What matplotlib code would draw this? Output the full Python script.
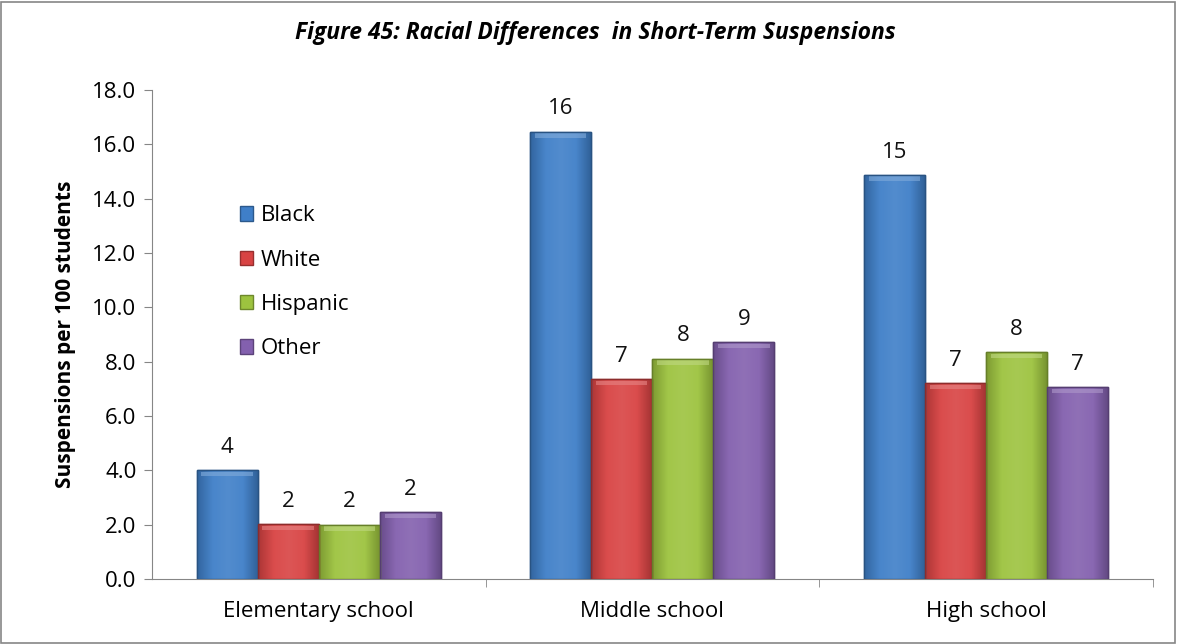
import numpy as np
import matplotlib
matplotlib.use("Agg")
import matplotlib.pyplot as plt
from matplotlib.colors import LinearSegmentedColormap, to_rgb
from matplotlib.patches import Rectangle

categories = ["Elementary school", "Middle school", "High school"]
groups = ["Black", "White", "Hispanic", "Other"]
black = [4.01, 16.47, 14.88]
white = [2.02, 7.36, 7.21]
hispanic = [2.00, 8.11, 8.36]
other = [2.45, 8.72, 7.05]
series = [black, white, hispanic, other]
colors = ["#3F7FC8", "#D84343", "#9DC33F", "#8360AE"]
yticks = np.arange(0, 18.1, 2)

plt.rcParams["font.family"] = ["Open Sans", "DejaVu Sans"]

fig = plt.figure(figsize=(11.77, 6.44), dpi=100)
ax = fig.add_axes([0.129, 0.1009, 0.8505, 0.7593])

x = np.arange(len(categories))
w = 0.183
offsets = (np.arange(len(groups)) - 1.5) * w


def shade(c, f):
    r = np.array(to_rgb(c))
    if f >= 0:
        return tuple(r + (1 - r) * f)
    return tuple(r * (1 + f))


for gi, (name, vals, col) in enumerate(zip(groups, series, colors)):
    bars = ax.bar(x + offsets[gi], vals, width=w, color=col,
                  edgecolor=shade(col, -0.3), linewidth=1.0, label=name, zorder=3)
    cmap = LinearSegmentedColormap.from_list(
        name, [shade(col, -0.2), shade(col, 0.05), shade(col, 0.1),
               shade(col, 0.05), shade(col, -0.25)])
    grad = np.linspace(0, 1, 64).reshape(1, -1)
    for b, v in zip(bars, vals):
        bx, bw = b.get_x(), b.get_width()
        im = ax.imshow(grad, cmap=cmap, extent=(bx, bx + bw, 0, v),
                       aspect="auto", zorder=3.5, interpolation="bicubic")
        im.set_clip_path(b)
        # top bevel highlight
        ax.add_patch(Rectangle((bx + bw * 0.08, v - 0.22), bw * 0.84, 0.16,
                               color=shade(col, 0.35), alpha=0.6, zorder=3.6,
                               linewidth=0))
        ax.add_patch(Rectangle((bx, 0), bw, v, fill=False,
                               edgecolor=shade(col, -0.35), linewidth=1.0, zorder=3.7))
        ax.text(bx + bw / 2, v + 0.45, f"{v:.0f}", ha="center", va="bottom",
                fontsize=16, color="#111111", zorder=4)

ax.set_xlim(-0.5, 2.5)
ax.set_ylim(0, 18)
ax.set_yticks(yticks)
ax.set_yticklabels([f"{t:.1f}" for t in yticks], fontsize=16)
ax.set_xticks(x)
ax.set_xticklabels(categories, fontsize=16)
ax.tick_params(axis="x", length=0, pad=16)
ax.set_xticks([0.5, 1.5, 2.5], minor=True)
ax.tick_params(axis="x", which="minor", length=6, color="#868686")
ax.tick_params(axis="y", length=6, color="#868686", pad=5)
for s in ["top", "right"]:
    ax.spines[s].set_visible(False)
for s in ["left", "bottom"]:
    ax.spines[s].set_color("#868686")
ax.set_ylabel("Suspensions per 100 students", fontsize=15, fontweight="bold", labelpad=12)

leg = ax.legend(loc="upper left", bbox_to_anchor=(0.068, 0.805), frameon=False,
                fontsize=16, handlelength=0.6, handleheight=0.6, labelspacing=1.05,
                handletextpad=0.35)

fig.text(0.506, 0.948, "Figure 45: Racial Differences  in Short-Term Suspensions",
         ha="center", va="center", fontsize=16.5, fontweight="bold", style="italic",
         family=["Open Sans", "DejaVu Sans"])

fig.add_artist(Rectangle((0.001, 0.002), 0.997, 0.995, transform=fig.transFigure,
                         fill=False, edgecolor="#868686", linewidth=1.2))

fig.savefig("out.png", dpi=100, facecolor="white")
